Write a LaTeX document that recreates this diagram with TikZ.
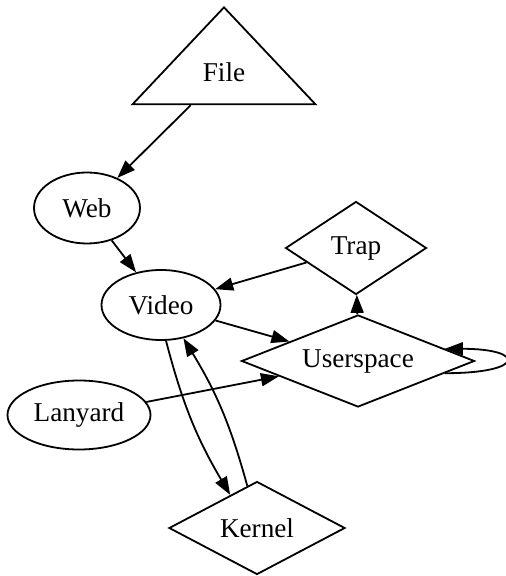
\documentclass[tikz,border=0pt]{standalone}
\usepackage{fontspec}
\setmainfont{Liberation Serif}
\usetikzlibrary{arrows.meta, shapes.geometric}
\tikzset{
  nd/.style={draw, line width=0.9pt, inner sep=0pt, align=center,
             font=\fontsize{13.6}{16}\selectfont},
  nEll/.style={nd, ellipse},
  nDia/.style={nd, diamond},
  nTri/.style={nd, isosceles triangle, isosceles triangle stretches,
               shape border rotate=90},
  myarr/.style={-{Triangle[length=9pt, width=6.5pt]}, line width=0.9pt},
}

\begin{document}
\begin{tikzpicture}[x=0.5pt, y=-0.5pt]
\useasboundingbox (0,0) rectangle (505,576);

%% ============================================================
%% NODES
%% ============================================================
\node[nTri, minimum width=91.5pt, minimum height=48.5pt, anchor=apex]
  (file) at (224,5) {File};

\node[nEll, minimum width=53pt, minimum height=35.5pt]   (web)     at (87,208)  {Web};
\node[nEll, minimum width=59.5pt, minimum height=35pt]   (video)   at (161,305) {Video};
\node[nEll, minimum width=71.5pt, minimum height=34.5pt] (lanyard) at (79,415)  {Lanyard};

\node[nDia, aspect=1.5, minimum width=70.5pt, minimum height=46.5pt]
  (trap) at (356,248) {Trap};
\node[nDia, aspect=2.5, minimum width=116.5pt, minimum height=46pt]
  (userspace) at (358,361) {Userspace};
\node[nDia, aspect=1.9, minimum width=88pt, minimum height=46.5pt]
  (kernel) at (257,528) {Kernel};

%% ============================================================
%% EDGES
%% ============================================================
\draw[myarr] (file) -- (web);
\draw[myarr] (web) -- (video);
\draw[myarr] (trap) -- (video);
\draw[myarr] (video) -- (userspace);
\draw[myarr] (lanyard) -- (userspace);
\draw[myarr] (userspace) -- (trap);

% self-loop on the right
\draw[myarr] (userspace.-8) to[out=0, in=0, looseness=8.5] (userspace.8);

% Video <-> Kernel
\draw[myarr] (video.-82) to[bend right=8] (kernel.129);
\draw[myarr] (kernel.103) to[bend right=8] (video.-56);

\end{tikzpicture}
\end{document}
